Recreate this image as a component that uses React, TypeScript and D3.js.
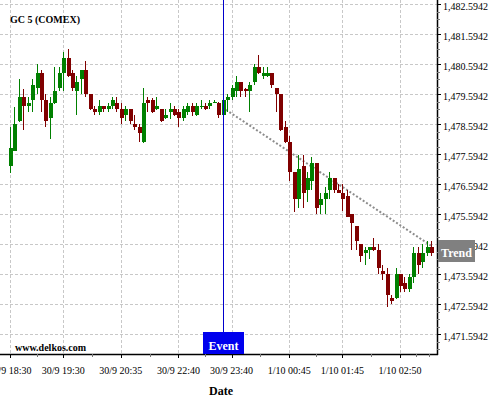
import React from "react";
import * as d3 from "d3";

const TITLE = "GC 5 (COMEX)";
const WATERMARK = "www.delkos.com";
const X_TITLE = "Date";

// OHLC per 5-minute candle (index order)
const opens = [1477.20,1477.71,1478.71,1479.50,1479.21,1479.40,1479.80,1480.30,1479.40,1478.80,1479.30,1479.80,1480.30,1480.80,1480.30,1479.70,1480.10,1480.40,1479.60,1479.10,1479.00,1479.20,1479.10,1479.20,1479.30,1479.10,1478.90,1479.10,1478.60,1478.50,1478.00,1479.40,1479.40,1479.10,1479.10,1478.81,1479.00,1479.10,1479.00,1478.81,1479.00,1479.20,1478.90,1479.20,1479.20,1479.20,1479.31,1479.31,1478.90,1479.40,1479.50,1479.70,1480.00,1479.76,1479.70,1480.00,1480.50,1480.20,1480.20,1480.30,1479.80,1479.60,1478.50,1478.00,1477.00,1476.10,1477.20,1476.40,1476.70,1477.30,1475.90,1476.10,1476.40,1476.80,1476.40,1476.29,1476.20,1475.60,1475.20,1474.60,1474.30,1474.40,1474.50,1474.40,1473.70,1473.60,1472.80,1472.80,1473.60,1473.30,1473.10,1473.50,1474.30,1474.00,1474.30,1474.50];
const highs = [1478.49,1479.18,1480.09,1479.78,1479.51,1480.09,1480.60,1480.40,1479.60,1479.50,1480.50,1480.50,1481.00,1481.10,1480.40,1480.20,1480.42,1480.70,1479.62,1479.20,1479.40,1479.22,1479.30,1479.50,1479.50,1479.30,1479.20,1479.10,1478.90,1478.60,1479.80,1479.50,1479.48,1479.50,1479.12,1479.10,1479.31,1479.20,1479.10,1479.20,1479.31,1479.31,1479.31,1479.40,1479.31,1479.40,1479.40,1479.33,1479.42,1479.60,1479.90,1480.20,1480.00,1479.80,1480.00,1480.60,1480.90,1480.50,1480.50,1480.32,1479.82,1479.62,1478.70,1478.20,1477.00,1477.57,1477.57,1477.00,1477.50,1477.32,1476.31,1476.50,1477.00,1476.82,1476.60,1476.60,1476.40,1475.62,1475.22,1474.62,1474.50,1474.52,1474.80,1474.60,1473.90,1473.80,1472.90,1473.80,1473.62,1473.50,1473.60,1474.50,1474.50,1474.60,1474.70,1474.70];
const lows = [1476.98,1477.69,1478.67,1478.40,1478.99,1478.99,1479.60,1478.99,1478.49,1478.09,1479.27,1479.70,1479.70,1480.18,1479.70,1478.90,1479.60,1479.50,1479.08,1478.90,1478.90,1479.00,1479.00,1479.10,1479.00,1478.60,1478.70,1478.60,1478.40,1478.00,1477.98,1479.00,1478.96,1479.07,1478.68,1478.77,1478.77,1478.88,1478.49,1478.70,1478.90,1478.88,1478.88,1479.10,1479.08,1479.10,1479.29,1478.80,1478.90,1479.00,1479.40,1479.50,1479.50,1479.50,1479.00,1479.90,1480.28,1480.10,1480.18,1479.80,1479.00,1478.38,1477.98,1476.69,1475.67,1475.80,1475.80,1476.00,1476.40,1475.60,1475.60,1475.60,1476.10,1476.29,1476.29,1475.70,1475.50,1474.40,1474.40,1474.00,1473.90,1474.10,1474.38,1473.60,1473.40,1472.51,1472.60,1472.78,1473.00,1473.00,1473.00,1473.30,1473.60,1473.80,1474.20,1474.20];
const closes = [1477.80,1478.60,1479.50,1479.21,1479.30,1479.90,1480.30,1479.40,1478.71,1479.30,1479.70,1480.30,1480.80,1480.20,1479.80,1480.00,1480.40,1479.60,1479.10,1479.00,1479.20,1479.10,1479.20,1479.40,1479.10,1478.80,1479.10,1478.70,1478.50,1478.30,1479.30,1479.30,1479.00,1479.20,1478.70,1478.90,1479.10,1478.90,1478.81,1479.10,1479.20,1479.00,1479.20,1479.22,1479.10,1479.31,1479.35,1478.90,1479.40,1479.50,1479.80,1480.00,1479.70,1479.70,1479.90,1480.50,1480.30,1480.30,1480.30,1479.90,1479.60,1478.40,1478.00,1477.00,1476.11,1477.10,1476.31,1476.80,1477.30,1475.80,1476.10,1476.31,1476.80,1476.40,1476.31,1476.10,1475.50,1475.30,1474.71,1474.20,1474.40,1474.50,1474.40,1473.80,1473.60,1472.90,1472.70,1473.60,1473.20,1473.10,1473.50,1474.30,1473.90,1474.30,1474.50,1474.30];

// x-axis tick labels and the candle index they sit on
const xTickLabels = ["30/9 18:30","30/9 19:30","30/9 20:35","30/9 22:40","30/9 23:40","1/10 00:45","1/10 01:45","1/10 02:50"];
const xTickIndex = [0, 12, 25, 38, 50, 63, 75, 88];
const xMinorIndex = [6, 18.5, 31.5, 44, 56.5, 69, 81.5, 91.5, 94.5];

// y-axis tick values
const yTickValues = [1471.5942,1472.5942,1473.5942,1474.5942,1475.5942,1476.5942,1477.5942,1478.5942,1479.5942,1480.5942,1481.5942,1482.5942];

// event and trend
const eventIndex = 48;
const eventLabel = "Event";
const trendIndex = [48, 95];
const trendValue = [1479.15, 1474.55];
const trendLabel = "Trend";

const W = 500, H = 400;
const PLOT_R = 437, PLOT_B = 354;
const UP = "#008000", DOWN = "#800000";
const FONT = "'Liberation Serif', 'Times New Roman', serif";

const snap = (v: number) => Math.round(v) + 0.5;

export default function App() {
  const x = d3.scaleLinear().domain([0, 88]).range([10, 400]);
  const y = d3.scaleLinear().domain([1470.9375, 1482.7375]).range([PLOT_B, 0]);
  const step = x(1) - x(0);
  const bw = Math.round(step * 0.92);
  const fmt = d3.format(",.4f");

  const minorY: number[] = [];
  for (let k = -4; k <= 48; k++) {
    const v = 1471.5942 + k * 0.25;
    if (v > 1470.94 && v < 1482.73 && k % 4 !== 0) minorY.push(v);
  }

  const trendLine = d3.line<number>()
    .x((_, i) => x(trendIndex[i]))
    .y((d) => y(d))(trendValue) || "";

  const ex = snap(x(eventIndex));
  const trendY = y(trendValue[1]);

  return (
    <svg width={W} height={H} style={{ position: "absolute", left: 0, top: 0, background: "#fff" }} fontFamily={FONT}>
      <rect x={0} y={0} width={W} height={H} fill="#fff" />
      {/* grid */}
      {yTickValues.map((v) => (
        <line key={"gy" + v} x1={0} x2={PLOT_R} y1={snap(y(v))} y2={snap(y(v))} stroke="#c8c8c8" strokeDasharray="3,2" />
      ))}
      {xTickIndex.map((i) => (
        <line key={"gx" + i} x1={snap(x(i))} x2={snap(x(i))} y1={0} y2={PLOT_B} stroke="#c8c8c8" strokeDasharray="3,2" />
      ))}
      {/* trend */}
      <path d={trendLine} fill="none" stroke="#8c8c8c" strokeWidth={2} strokeDasharray="2,2" />
      {/* candles */}
      {opens.map((o, i) => {
        const c = closes[i];
        const up = c >= o;
        const col = up ? UP : DOWN;
        const top = Math.round(y(Math.max(o, c)));
        const bot = Math.round(y(Math.min(o, c)));
        const cx = snap(x(i));
        return (
          <g key={"c" + i}>
            <line x1={cx} x2={cx} y1={Math.round(y(highs[i]))} y2={Math.round(y(lows[i]))} stroke={col} strokeWidth={1} />
            <rect x={Math.round(cx - bw / 2)} y={top} width={bw} height={Math.max(1, bot - top)} fill={col} />
          </g>
        );
      })}
      {/* event line */}
      <line x1={ex} x2={ex} y1={0} y2={PLOT_B - 22} stroke="#0000cc" strokeWidth={1} />
      {/* title */}
      <text x={10} y={23} fontSize={10} fontWeight="bold" fill="#000">{TITLE}</text>
      <text x={15} y={351} fontSize={10} fontWeight="bold" fill="#000">{WATERMARK}</text>
      {/* axes */}
      <line x1={0} x2={PLOT_R + 1} y1={PLOT_B + 0.5} y2={PLOT_B + 0.5} stroke="#000" strokeWidth={1.5} />
      <line x1={PLOT_R + 0.5} x2={PLOT_R + 0.5} y1={0} y2={PLOT_B + 1} stroke="#000" strokeWidth={1.5} />
      {yTickValues.map((v) => (
        <g key={"ty" + v}>
          <line x1={PLOT_R} x2={PLOT_R + 4} y1={snap(y(v))} y2={snap(y(v))} stroke="#000" />
          <text x={443} y={y(v) + 2} dy="0.35em" fontSize={10} fill="#000">{fmt(v)}</text>
        </g>
      ))}
      {minorY.map((v) => (
        <line key={"my" + v} x1={PLOT_R} x2={PLOT_R + 3} y1={snap(y(v))} y2={snap(y(v))} stroke="#777" />
      ))}
      {xTickIndex.map((i, k) => (
        <g key={"tx" + i}>
          <line x1={snap(x(i))} x2={snap(x(i))} y1={PLOT_B} y2={PLOT_B + 4} stroke="#000" />
          <text x={x(i)} y={374} textAnchor="middle" fontSize={10} fill="#000">{xTickLabels[k]}</text>
        </g>
      ))}
      {xMinorIndex.map((i) => (
        <line key={"mx" + i} x1={snap(x(i))} x2={snap(x(i))} y1={PLOT_B} y2={PLOT_B + 3} stroke="#777" />
      ))}
      <text x={221} y={395} textAnchor="middle" fontSize={12} fontWeight="bold" fill="#000">{X_TITLE}</text>
      {/* event box */}
      <rect x={Math.round(ex - 21)} y={PLOT_B - 22} width={41} height={22} fill="#0000ee" />
      <text x={ex} y={PLOT_B - 4} textAnchor="middle" fontSize={12} fontWeight="bold" fill="#fff">{eventLabel}</text>
      {/* trend box */}
      <rect x={438} y={Math.round(trendY - 6)} width={37} height={22} fill="#808080" />
      <text x={456.5} y={trendY + 11} textAnchor="middle" fontSize={12} fontWeight="bold" fill="#fff">{trendLabel}</text>
    </svg>
  );
}
